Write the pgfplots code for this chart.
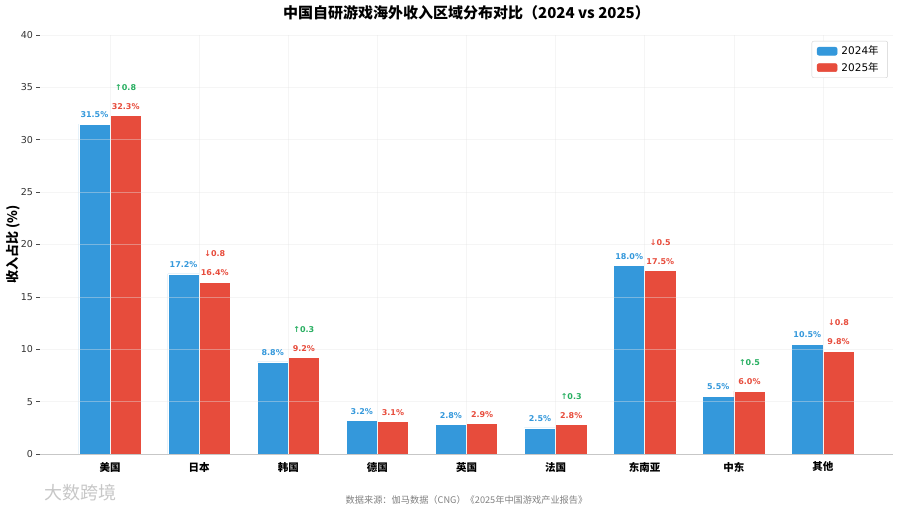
\documentclass[border=0pt]{standalone}
\usepackage{fontspec}
\setmainfont{DejaVu Sans}
\newfontfamily\cjk{Noto Sans CJK SC}
\usepackage{pgfplots}
\pgfplotsset{compat=1.18}
\definecolor{cblue}{HTML}{3498DB}
\definecolor{cred}{HTML}{E74C3C}
\definecolor{cgreen}{HTML}{27AE60}
\begin{document}
\begin{tikzpicture}
\path[use as bounding box] (-40pt,-59pt) rectangle (860pt,454pt);
\begin{axis}[
  at={(0pt,0pt)}, anchor=south west,
  scale only axis, width=853pt, height=419pt,
  xmin=-0.786, xmax=8.786, ymin=0, ymax=40,
  clip=false,
  axis on top,
  axis x line*=bottom, axis y line*=left,
  x axis line style={draw=black!22, line width=0.8pt},
  y axis line style={draw=none},
  ytick={0,5,...,40},
  xtick={0,...,8},
  xticklabels={美国,日本,韩国,德国,英国,法国,东南亚,中东,其他},
  xticklabel style={font=\cjk\bfseries\fontsize{10.5}{12}\selectfont, text=black, yshift=-1pt},
  yticklabel style={font=\fontsize{9.5}{11}\selectfont, text=black!80},
  /pgf/number format/assume math mode=true,
  xtick style={draw=none},
  ytick style={draw=black!70, line width=0.5pt},
  tick align=outside, major tick length=3.5pt,
  grid=major,
  major grid style={color=black!10, opacity=0.4, line width=0.6pt},
  title={\cjk\bfseries 中国自研游戏海外收入区域分布对比（2024 vs 2025）},
  title style={at={(0.5,1)}, anchor=center, yshift=16pt, font=\fontsize{15}{17}\selectfont},
  legend style={at={(0.994,0.986)}, anchor=north east, draw=black!18, rounded corners=2pt,
    font=\fontsize{10.5}{12}\selectfont, row sep=2pt, inner xsep=5pt, inner ysep=3pt,
    nodes={inner xsep=4pt}},
  legend cell align=left,
]
\addplot[ybar, bar width=0.35, bar shift=0, fill=cblue, draw=white, line width=0.6pt,
  point meta=y,
  nodes near coords={\pgfmathprintnumber[fixed,precision=1,fixed zerofill]{\pgfplotspointmeta}\%},
  nodes near coords style={font=\bfseries\fontsize{8}{9}\selectfont, text=cblue, anchor=south, inner sep=0pt, yshift=6pt},
  legend image code/.code={\fill[cblue] (0pt,-4pt) rectangle (20pt,4pt);}]
coordinates {(-0.175,31.5) (0.825,17.2) (1.825,8.8) (2.825,3.2) (3.825,2.8) (4.825,2.5) (5.825,18.0) (6.825,5.5) (7.825,10.5)};
\addlegendentry{2024{\cjk 年}}
\addplot[ybar, bar width=0.35, bar shift=0, fill=cred, draw=white, line width=0.6pt,
  point meta=y,
  nodes near coords={\pgfmathprintnumber[fixed,precision=1,fixed zerofill]{\pgfplotspointmeta}\%},
  nodes near coords style={font=\bfseries\fontsize{8}{9}\selectfont, text=cred, anchor=south, inner sep=0pt, yshift=6pt},
  legend image code/.code={\fill[cred] (0pt,-4pt) rectangle (20pt,4pt);}]
coordinates {(0.175,32.3) (1.175,16.4) (2.175,9.2) (3.175,3.1) (4.175,2.9) (5.175,2.8) (6.175,17.5) (7.175,6.0) (8.175,9.8)};
\addlegendentry{2025{\cjk 年}}
\addplot[draw=none, forget plot, point meta=explicit symbolic, nodes near coords,
  nodes near coords style={font=\bfseries\fontsize{8}{9}\selectfont, text=cgreen, anchor=center, inner sep=0pt}]
coordinates {(0.175,35.0)[↑0.8] (2.175,11.9)[↑0.3] (5.175,5.5)[↑0.3] (7.175,8.7)[↑0.5]};
\addplot[draw=none, forget plot, point meta=explicit symbolic, nodes near coords,
  nodes near coords style={font=\bfseries\fontsize{8}{9}\selectfont, text=cred, anchor=center, inner sep=0pt}]
coordinates {(1.175,19.1)[↓0.8] (6.175,20.2)[↓0.5] (8.175,12.5)[↓0.8]};
\end{axis}
\node[rotate=90, anchor=center, font=\cjk\bfseries\fontsize{13}{15}\selectfont] at (-27pt,209.5pt) {收入占比 (\%)};
\node[anchor=center, font=\cjk\fontsize{9.2}{11}\selectfont, text=black!50] at (426.5pt,-46pt) {数据来源：伽马数据（\textit{CNG}）《2025年中国游戏产业报告》};
\node[anchor=center, font=\cjk\fontsize{18}{20}\selectfont, text=black!22] at (40pt,-39pt) {大数跨境};
\end{tikzpicture}
\end{document}
